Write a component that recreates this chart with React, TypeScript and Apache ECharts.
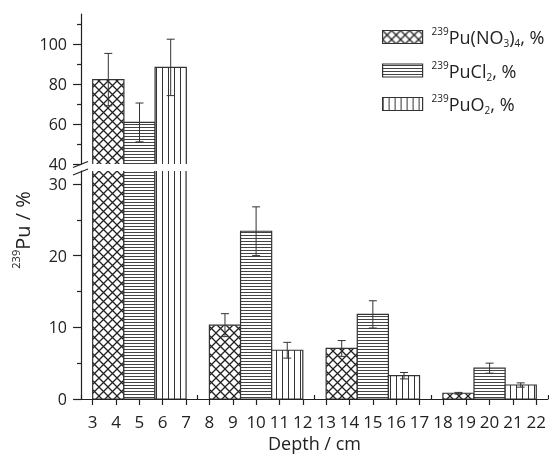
import React, { useEffect, useRef } from 'react';
import * as echarts from 'echarts';

// ---- data ----
const groupStarts = [3, 8, 13, 18]; // depth interval starts (cm)
const groupSpan = 4; // each group covers 4 cm, split between three bars
const seriesNames = ['Pu(NO3)4', 'PuCl2', 'PuO2'];
const no3Values = [82.2, 10.3, 7.05, 0.8];
const no3Errors = [13.1, 1.6, 1.1, 0.12];
const cl2Values = [60.8, 23.4, 11.8, 4.3];
const cl2Errors = [9.7, 3.4, 1.9, 0.7];
const o2Values = [88.3, 6.8, 3.25, 1.95];
const o2Errors = [14.1, 1.1, 0.45, 0.3];
const xTickLabels = [3, 4, 5, 6, 7, 8, 9, 10, 11, 12, 13, 14, 15, 16, 17, 18, 19, 20, 21, 22];
const xMinorTicks = [2.5, 3.5, 4.5, 5.5, 6.5, 7.5, 8.5, 9.5, 10.5, 11.5, 12.5, 13.5, 14.5, 15.5, 16.5, 17.5, 18.5, 19.5, 20.5, 21.5, 22.5];
const upperTickLabels = [40, 60, 80, 100];
const upperMinorTicks = [50, 70, 90, 110];
const lowerTickLabels = [0, 10, 20, 30];
const lowerMinorTicks = [5, 15, 25];

const FONT = 'Open Sans';
const INK = '#222';

function makeTile(w: number, h: number, draw: (ctx: CanvasRenderingContext2D) => void) {
  const c = document.createElement('canvas');
  c.width = w;
  c.height = h;
  const ctx = c.getContext('2d')!;
  ctx.fillStyle = '#fff';
  ctx.fillRect(0, 0, w, h);
  draw(ctx);
  return { image: c, repeat: 'repeat', imageWidth: w, imageHeight: h } as any;
}

export default function App() {
  const ref = useRef<HTMLDivElement>(null);
  useEffect(() => {
    if (!ref.current) return;
    const chart = echarts.init(ref.current, null, { renderer: 'svg' });

    const cross = makeTile(9, 9, (ctx) => {
      ctx.strokeStyle = '#222';
      ctx.lineWidth = 1.3;
      ctx.beginPath();
      ctx.moveTo(-1, -1); ctx.lineTo(10, 10);
      ctx.moveTo(-1, 10); ctx.lineTo(10, -1);
      ctx.stroke();
    });
    const horiz = makeTile(4, 3, (ctx) => {
      ctx.fillStyle = '#444';
      ctx.fillRect(0, 1, 4, 1);
    });
    const vert = makeTile(6, 4, (ctx) => {
      ctx.fillStyle = '#333';
      ctx.fillRect(0, 0, 1, 4);
    });
    const patterns = [cross, horiz, vert];
    const valueSets = [no3Values, cl2Values, o2Values];
    const errSets = [no3Errors, cl2Errors, o2Errors];

    const renderItem = (params: any, api: any) => {
      const x0 = api.value(0);
      const x1 = api.value(1);
      const v = api.value(2);
      const e = api.value(3);
      const base = api.coord([x0, 0]);
      const top = api.coord([x1, v]);
      const xc = (x0 + x1) / 2;
      const eTop = api.coord([xc, v + e]);
      const eBot = api.coord([xc, v - e]);
      const cap = 4;
      return {
        type: 'group',
        children: [
          {
            type: 'rect',
            shape: { x: base[0], y: top[1], width: top[0] - base[0], height: base[1] - top[1] },
            style: { fill: patterns[params.seriesIndex % 3], stroke: '#333', lineWidth: 1.2 },
          },
          { type: 'line', shape: { x1: eTop[0], y1: eTop[1], x2: eBot[0], y2: eBot[1] }, style: { stroke: '#333', lineWidth: 1 } },
          { type: 'line', shape: { x1: eTop[0] - cap, y1: eTop[1], x2: eTop[0] + cap, y2: eTop[1] }, style: { stroke: '#333', lineWidth: 1 } },
          { type: 'line', shape: { x1: eBot[0] - cap, y1: eBot[1], x2: eBot[0] + cap, y2: eBot[1] }, style: { stroke: '#333', lineWidth: 1 } },
        ],
      };
    };

    const series: any[] = [];
    [0, 1].forEach((gridIdx) => {
      seriesNames.forEach((name, si) => {
        const data = groupStarts.map((s, gi) => {
          const w = groupSpan / 3;
          return [s + si * w, s + (si + 1) * w, valueSets[si][gi], errSets[si][gi]];
        });
        series.push({
          type: 'custom',
          name,
          xAxisIndex: gridIdx === 0 ? 0 : 1,
          yAxisIndex: gridIdx === 0 ? 0 : 2,
          clip: true,
          renderItem,
          encode: { x: [0, 1], y: 2 },
          itemStyle: { color: patterns[si], borderColor: '#333', borderWidth: 1 },
          data,
        });
      });
    });

    const supRich = {
      m: { fontFamily: FONT, fontSize: 18, lineHeight: 22, color: INK, verticalAlign: 'middle' },
      sup: { fontFamily: FONT, fontSize: 10, lineHeight: 12, color: INK, verticalAlign: 'top' },
      sub: { fontFamily: FONT, fontSize: 10, lineHeight: 12, color: INK, verticalAlign: 'bottom' },
    };
    const legendText: Record<string, string> = {
      'Pu(NO3)4': '{sup|239}{m|Pu(NO}{sub|3}{m|)}{sub|4}{m|, %}',
      PuCl2: '{sup|239}{m|PuCl}{sub|2}{m|, %}',
      PuO2: '{sup|239}{m|PuO}{sub|2}{m|, %}',
    };

    const axisLineStyle = { color: INK, width: 1.2 };
    const labelStyle = { fontFamily: FONT, fontSize: 17, color: INK };
    const yLabelStyle = { fontFamily: FONT, fontSize: 16, color: INK, lineHeight: 15 };

    const option: any = {
      animation: false,
      grid: [
        { left: 81, right: 0, top: 14, height: 150 },
        { left: 81, right: 0, top: 171, bottom: 60 },
      ],
      legend: {
        orient: 'vertical',
        left: 377,
        top: 21,
        itemWidth: 40,
        itemHeight: 13,
        itemGap: 11.5,
        icon: 'rect',
        data: seriesNames.map((n, i) => ({
          name: n,
          itemStyle: { color: patterns[i], borderColor: '#333', borderWidth: 1.2 },
        })),
        formatter: (name: string) => legendText[name],
        textStyle: { rich: supRich, padding: [0, 0, 0, 4] },
      },
      xAxis: [
        { type: 'value', gridIndex: 0, min: 2.5, max: 22.5, show: false },
        {
          type: 'value', gridIndex: 1, min: 2.5, max: 22.5,
          axisLine: { show: true, onZero: false, lineStyle: axisLineStyle },
          axisTick: { show: true, length: 6, customValues: xTickLabels, lineStyle: axisLineStyle },
          axisLabel: { customValues: xTickLabels, margin: 14, ...labelStyle },
          splitLine: { show: false },
          name: 'Depth / cm',
          nameLocation: 'middle',
          nameGap: 35,
          nameTextStyle: { fontFamily: FONT, fontSize: 18, color: INK },
        },
        {
          type: 'value', gridIndex: 1, min: 2.5, max: 22.5,
          axisLine: { show: false },
          axisTick: { show: true, length: 4, customValues: xMinorTicks, lineStyle: axisLineStyle },
          axisLabel: { show: false },
          splitLine: { show: false },
        },
      ],
      yAxis: [
        {
          type: 'value', gridIndex: 0, min: 40, max: 115, position: 'left',
          axisLine: { show: true, lineStyle: axisLineStyle },
          axisTick: { show: true, length: 8, customValues: upperTickLabels, lineStyle: axisLineStyle },
          axisLabel: { customValues: upperTickLabels, margin: 14, ...yLabelStyle },
          splitLine: { show: false },
        },
        {
          type: 'value', gridIndex: 0, min: 40, max: 115, position: 'left',
          axisLine: { show: false },
          axisTick: { show: true, length: 4, customValues: upperMinorTicks, lineStyle: axisLineStyle },
          axisLabel: { show: false },
          splitLine: { show: false },
        },
        {
          type: 'value', gridIndex: 1, min: 0, max: 31.8, position: 'left',
          axisLine: { show: true, lineStyle: axisLineStyle },
          axisTick: { show: true, length: 8, customValues: lowerTickLabels, lineStyle: axisLineStyle },
          axisLabel: { customValues: lowerTickLabels, margin: 14, ...yLabelStyle },
          splitLine: { show: false },
        },
        {
          type: 'value', gridIndex: 1, min: 0, max: 31.8, position: 'left',
          axisLine: { show: false },
          axisTick: { show: true, length: 4, customValues: lowerMinorTicks, lineStyle: axisLineStyle },
          axisLabel: { show: false },
          splitLine: { show: false },
        },
      ],
      graphic: [
        { type: 'line', shape: { x1: 73, y1: 167.5, x2: 88, y2: 161.5 }, style: { stroke: INK, lineWidth: 1.3 } },
        { type: 'line', shape: { x1: 73, y1: 175, x2: 88, y2: 169 }, style: { stroke: INK, lineWidth: 1.3 } },
        {
          type: 'text',
          x: 22,
          y: 230,
          rotation: Math.PI / 2,
          style: {
            text: '{sup|239}{m|Pu / %}',
            align: 'center',
            verticalAlign: 'middle',
            rich: {
              m: { fontFamily: FONT, fontSize: 20, lineHeight: 24, fill: INK, verticalAlign: 'middle' },
              sup: { fontFamily: FONT, fontSize: 11, lineHeight: 13, fill: INK, verticalAlign: 'top' },
            },
          },
        },
      ],
      series,
    };
    chart.setOption(option);
    return () => chart.dispose();
  }, []);
  return <div ref={ref} style={{ position: 'fixed', left: 0, top: 0, width: 549, height: 459 }} />;
}
